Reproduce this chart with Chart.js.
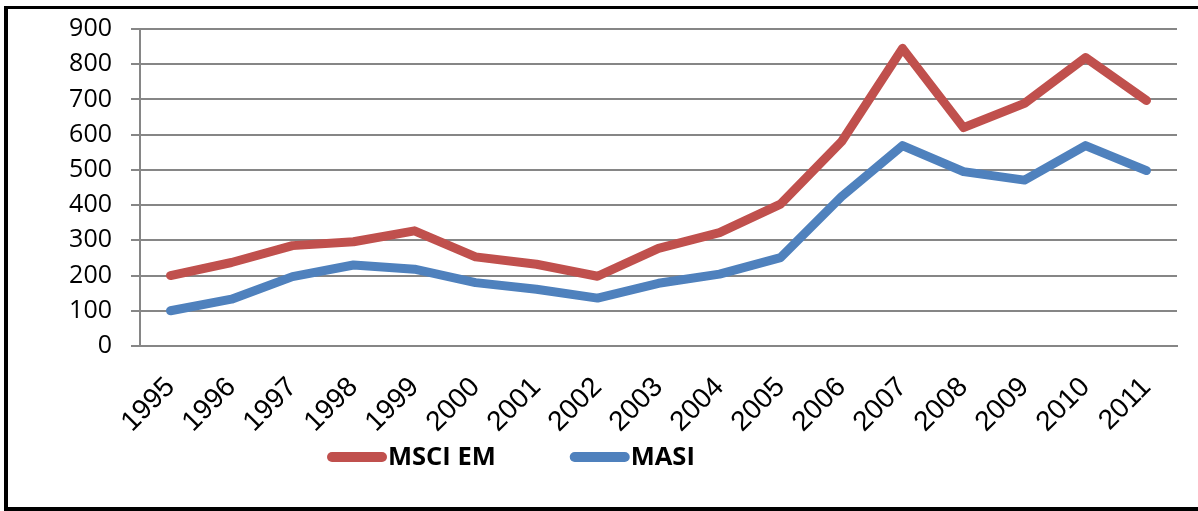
<!DOCTYPE html>
<html>
<head>
<meta charset="utf-8">
<script src="https://cdn.jsdelivr.net/npm/chart.js@4/dist/chart.umd.min.js"></script>
<style>
  html, body { margin: 0; padding: 0; background: #fff; }
  body { width: 1198px; height: 511px; position: relative; overflow: hidden; }
  #frame {
    position: absolute; left: 4px; top: 6px; width: 1194px; height: 505px;
    box-sizing: border-box;
    border-top: 3px solid #000; border-left: 4px solid #000; border-bottom: 4px solid #000;
  }
  #wrap { position: absolute; left: 0; top: 0; width: 1190px; height: 498px; }
</style>
</head>
<body>
<div id="frame"><div id="wrap"><canvas id="c"></canvas></div></div>
<script>
const categories = ['1995','1996','1997','1998','1999','2000','2001','2002','2003','2004','2005','2006','2007','2008','2009','2010','2011'];
const msciEM = [200, 237, 285, 296, 327, 253, 232, 198, 277, 322, 403, 580, 845, 620, 689, 819, 697];
const masi   = [100, 133, 197, 230, 218, 180, 161, 136, 178, 204, 251, 424, 569, 495, 471, 569, 498];
const seriesNames = ['MSCI EM', 'MASI'];
const seriesColors = ['#C0504D', '#4F81BD'];
const yTicks = [0, 100, 200, 300, 400, 500, 600, 700, 800, 900];

const gridColor = '#868686';

const legendPlugin = {
  id: 'customLegend',
  afterDraw(chart) {
    const ctx = chart.ctx;
    ctx.save();
    ctx.font = 'bold 25.5px "Open Sans"';
    ctx.textBaseline = 'middle';
    ctx.textAlign = 'left';
    let x = 319;
    const y = 448;
    chart.data.datasets.forEach((ds, i) => {
      ctx.strokeStyle = ds.borderColor;
      ctx.lineWidth = 10;
      ctx.lineCap = 'round';
      ctx.beginPath();
      ctx.moveTo(x + 5, y);
      ctx.lineTo(x + 55, y);
      ctx.stroke();
      ctx.fillStyle = '#000';
      ctx.fillText(ds.label, x + 61, y + 1);
      const w = ctx.measureText(ds.label).width;
      x = x + 61 + w + 74;
    });
    ctx.restore();
  }
};

new Chart(document.getElementById('c'), {
  type: 'line',
  data: {
    labels: categories,
    datasets: [
      { label: seriesNames[0], data: msciEM, borderColor: seriesColors[0], backgroundColor: seriesColors[0] },
      { label: seriesNames[1], data: masi, borderColor: seriesColors[1], backgroundColor: seriesColors[1] }
    ]
  },
  options: {
    responsive: true,
    maintainAspectRatio: false,
    animation: false,
    devicePixelRatio: 1,
    layout: { padding: { left: 0, right: 21, top: 20, bottom: 0 } },
    elements: {
      line: { borderWidth: 9, tension: 0, borderCapStyle: 'round', borderJoinStyle: 'round' },
      point: { radius: 0, hoverRadius: 0 }
    },
    plugins: { legend: { display: false }, tooltip: { enabled: false } },
    scales: {
      x: {
        offset: true,
        grid: { display: false, drawTicks: false },
        border: { display: true, color: gridColor, width: 2 },
        ticks: {
          minRotation: 45, maxRotation: 45, autoSkip: false, padding: 25,
          color: '#000', font: { family: '"Liberation Sans"', size: 28 }
        },
        afterFit(s) { s.height = 161; s.paddingLeft = 0; s.paddingRight = 0; }
      },
      y: {
        min: 0, max: 900,
        afterBuildTicks(s) { s.ticks = yTicks.map(v => ({ value: v })); },
        grid: { color: gridColor, lineWidth: 2, drawTicks: true, tickLength: 9, tickColor: gridColor },
        border: { display: true, color: gridColor, width: 2 },
        ticks: { padding: 19, color: '#000', font: { family: '"Open Sans"', size: 25 } },
        afterFit(s) { s.width = 132; s.paddingTop = 0; s.paddingBottom = 0; }
      }
    }
  },
  plugins: [legendPlugin]
});
</script>
</body>
</html>
